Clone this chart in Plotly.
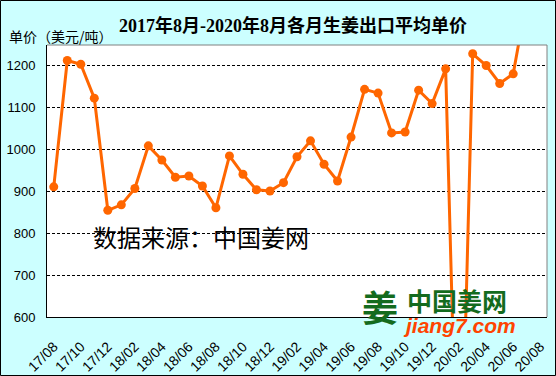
import plotly.graph_objects as go

months = ["17/08","17/09","17/10","17/11","17/12","18/01","18/02","18/03","18/04","18/05",
          "18/06","18/07","18/08","18/09","18/10","18/11","18/12","19/01","19/02","19/03",
          "19/04","19/05","19/06","19/07","19/08","19/09","19/10","19/11","19/12","20/01",
          "20/02","20/03","20/04","20/05","20/06","20/07","20/08"]
prices = [911, 1213, 1204, 1123, 855, 868, 907, 1009, 975, 934,
          937, 913, 861, 985, 941, 904, 901, 921, 983, 1021,
          965, 925, 1030, 1144, 1135, 1040, 1042, 1142, 1110, 1193,
          0, 1229, 1201, 1158, 1181, 1360, None]
tick_labels = months[::2]
y_ticks = [600, 700, 800, 900, 1000, 1100, 1200]

W, H = 556, 376
L, R, T, B = 47, 9, 45, 59
pw, ph = W - L - R, H - T - B

fig = go.Figure()
fig.add_trace(go.Scatter(
    x=months, y=prices, mode="lines+markers",
    line=dict(color="#FF6600", width=3),
    marker=dict(color="#FF6600", size=9),
    connectgaps=False, hoverinfo="x+y",
))

fig.update_layout(
    width=W, height=H,
    margin=dict(l=L, r=R, t=T, b=B, pad=0, autoexpand=False),
    paper_bgcolor="#CCFFFF",
    plot_bgcolor="#FFFFFF",
    showlegend=False,
    font=dict(family="Liberation Sans, Arial, Noto Sans CJK SC", color="#000000", size=12),
    title=dict(text="<b>2017年8月-2020年8月各月生姜出口平均单价</b>",
               x=293/W, xanchor="center", y=1 - 26/H, yanchor="middle",
               font=dict(family="Liberation Serif, Noto Sans CJK SC", size=18, color="#000000")),
    xaxis=dict(
        type="category", categoryorder="array", categoryarray=months,
        range=[-0.5, len(months) - 0.5], automargin=False,
        tickmode="array", tickvals=tick_labels, ticktext=tick_labels,
        tickangle=-45, tickfont=dict(size=14),
        showgrid=False, showline=True, linecolor="#000000", linewidth=1,
        ticks="outside", ticklen=15, tickcolor="rgba(0,0,0,0)", zeroline=False,
    ),
    yaxis=dict(
        range=[600, 1250], tickvals=y_ticks, ticktext=[str(v) for v in y_ticks],
        tickfont=dict(size=13), automargin=False,
        showgrid=True, gridcolor="#000000", gridwidth=1, griddash="3px,2px",
        showline=True, linecolor="#000000", linewidth=1,
        ticks="outside", ticklen=8, tickcolor="rgba(0,0,0,0)", zeroline=False,
    ),
)

# plot area top/right gray border
fig.add_shape(type="line", xref="paper", yref="paper", x0=0, x1=1, y0=1, y1=1,
              line=dict(color="#808080", width=1))
fig.add_shape(type="line", xref="paper", yref="paper", x0=1, x1=1, y0=0, y1=1,
              line=dict(color="#808080", width=1))
# figure outer border
fig.add_shape(type="rect", xref="paper", yref="paper",
              x0=(0.5 - L) / pw, x1=(W - 0.5 - L) / pw,
              y0=-(B - 0.5) / ph, y1=(H - B - 0.5) / ph,
              line=dict(color="#000000", width=1), fillcolor="rgba(0,0,0,0)", layer="above")

# y-axis unit label
fig.add_annotation(text="单价（美元/吨）", xref="paper", yref="paper",
                   x=(7 - L) / pw, y=(H - B - 36) / ph, xanchor="left", yanchor="middle",
                   showarrow=False, font=dict(size=14, family="Noto Sans CJK SC"))
# data source
fig.add_annotation(text="数据来源：中国姜网", xref="paper", yref="paper",
                   x=(91 - L) / pw, y=(H - B - 237) / ph, xanchor="left", yanchor="middle",
                   showarrow=False, font=dict(size=24, family="Noto Sans CJK SC", color="#000000"))
# logo
fig.add_annotation(text="<b>姜</b>", xref="paper", yref="paper",
                   x=(380 - L) / pw, y=(H - B - 306) / ph, xanchor="center", yanchor="middle",
                   showarrow=False, font=dict(size=36, family="Noto Sans CJK SC", color="#146B1E"))
fig.add_annotation(text="<b>中国姜网</b>", xref="paper", yref="paper",
                   x=(405 - L) / pw, y=(H - B - 300) / ph, xanchor="left", yanchor="middle",
                   showarrow=False, font=dict(size=25, family="Noto Sans CJK SC", color="#146B1E"))
fig.add_annotation(text="<b><i>jiang7.com</i></b>", xref="paper", yref="paper",
                   x=(401 - L) / pw, y=(H - B - 325) / ph, xanchor="left", yanchor="middle",
                   showarrow=False, font=dict(size=21, family="Liberation Sans", color="#FF4400"))

fig.write_html("out.html", config={"displayModeBar": False},
               post_script="document.body.style.margin='0';document.body.style.padding='0';"
                           "document.body.style.overflow='hidden';")
